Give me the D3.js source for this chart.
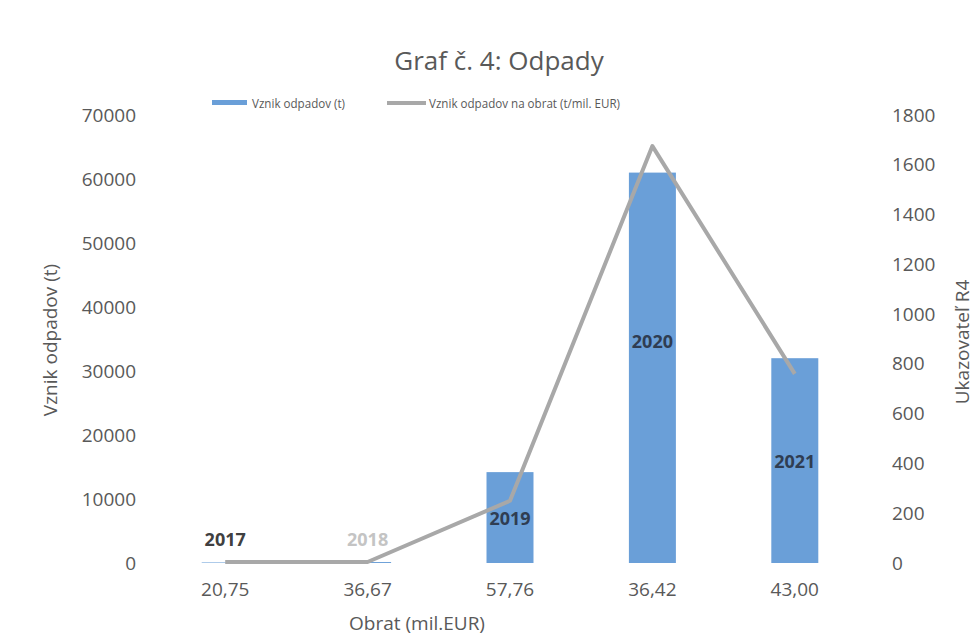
<!DOCTYPE html>
<html>
<head>
<meta charset="utf-8">
<script src="https://cdn.jsdelivr.net/npm/d3@7"></script>
<style>
  body { margin: 0; background: #fff; }
  text { font-family: "Open Sans", sans-serif; }
</style>
</head>
<body>
<svg width="974" height="642"></svg>
<script>
const years = ['2017', '2018', '2019', '2020', '2021'];
const obrat = ['20,75', '36,67', '57,76', '36,42', '43,00'];
const odpady = [85, 150, 14200, 61000, 32000];
const ukazovatel = [4, 4, 250, 1675, 760];
const leftTicks = [0, 10000, 20000, 30000, 40000, 50000, 60000, 70000];
const rightTicks = [0, 200, 400, 600, 800, 1000, 1200, 1400, 1600, 1800];

const svg = d3.select('svg');
const plotLeft = 154, plotRight = 866, plotTop = 115, plotBottom = 563;

const x = d3.scaleBand().domain(obrat.map((d, i) => i))
  .range([plotLeft, plotRight]).paddingInner(0.67).paddingOuter(0.335);
const yL = d3.scaleLinear().domain([0, 70000]).range([plotBottom, plotTop]);
const yR = d3.scaleLinear().domain([0, 1800]).range([plotBottom, plotTop]);

// title
svg.append('text')
  .attr('x', 499).attr('y', 70)
  .attr('text-anchor', 'middle')
  .attr('font-size', 26)
  .attr('fill', '#595959')
  .text('Graf č. 4: Odpady');

// axes
const yAxisL = svg.append('g').attr('transform', `translate(${plotLeft},0)`)
  .call(d3.axisLeft(yL).tickValues(leftTicks).tickFormat(d3.format('d')).tickSize(0).tickPadding(18));
const yAxisR = svg.append('g').attr('transform', `translate(${plotRight},0)`)
  .call(d3.axisRight(yR).tickValues(rightTicks).tickFormat(d3.format('d')).tickSize(0).tickPadding(26));
const xAxis = svg.append('g').attr('transform', `translate(0,${plotBottom})`)
  .call(d3.axisBottom(x).tickFormat(i => obrat[i]).tickSize(0).tickPadding(20));

[yAxisL, yAxisR, xAxis].forEach(g => {
  g.select('.domain').remove();
  g.selectAll('text').attr('font-size', 19).attr('fill', '#595959')
    .style('font-family', '"Open Sans", sans-serif');
});

// axis titles
svg.append('text')
  .attr('transform', 'translate(50,340) rotate(-90)')
  .attr('text-anchor', 'middle').attr('dominant-baseline', 'central')
  .attr('font-size', 19).attr('fill', '#595959')
  .text('Vznik odpadov (t)');

svg.append('text')
  .attr('transform', 'translate(962,342) rotate(-90)')
  .attr('text-anchor', 'middle').attr('dominant-baseline', 'central')
  .attr('font-size', 19).attr('fill', '#595959')
  .text('Ukazovateľ R4');

svg.append('text')
  .attr('x', 417).attr('y', 630)
  .attr('text-anchor', 'middle')
  .attr('font-size', 19).attr('fill', '#595959')
  .text('Obrat (mil.EUR)');

// bars
svg.selectAll('rect.bar').data(odpady).enter()
  .append('rect')
  .attr('class', 'bar')
  .attr('x', (d, i) => x(i))
  .attr('y', d => yL(d))
  .attr('width', x.bandwidth())
  .attr('height', d => plotBottom - yL(d))
  .attr('fill', '#6a9fd8');

// line
const line = d3.line()
  .x((d, i) => x(i) + x.bandwidth() / 2)
  .y(d => yR(d));

svg.append('path')
  .attr('fill', 'none')
  .attr('stroke', '#a8a8a8')
  .attr('stroke-width', 4)
  .attr('stroke-linejoin', 'round')
  .attr('d', line(ukazovatel));

// year labels
const labelColors = ['#404040', '#c4c4c4', '#2f3d52', '#2f3d52', '#2f3d52'];
svg.selectAll('text.year').data(years).enter()
  .append('text')
  .attr('class', 'year')
  .attr('x', (d, i) => x(i) + x.bandwidth() / 2)
  .attr('y', (d, i) => Math.min((yL(odpady[i]) + plotBottom) / 2, plotBottom - 24) + (i === 3 ? -27 : 0))
  .attr('text-anchor', 'middle')
  .attr('dominant-baseline', 'central')
  .attr('font-size', 18)
  .attr('font-weight', 'bold')
  .attr('fill', (d, i) => labelColors[i])
  .text(d => d);

// legend
const legend = svg.append('g');
legend.append('rect')
  .attr('x', 212).attr('y', 100).attr('width', 35).attr('height', 5)
  .attr('fill', '#6a9fd8');
legend.append('text')
  .attr('x', 252).attr('y', 103)
  .attr('dominant-baseline', 'central')
  .attr('font-size', 12).attr('fill', '#595959')
  .attr('textLength', 93).attr('lengthAdjust', 'spacingAndGlyphs')
  .text('Vznik odpadov (t)');
legend.append('line')
  .attr('x1', 387).attr('x2', 426).attr('y1', 103).attr('y2', 103)
  .attr('stroke', '#a8a8a8').attr('stroke-width', 4);
legend.append('text')
  .attr('x', 429).attr('y', 103)
  .attr('dominant-baseline', 'central')
  .attr('font-size', 12).attr('fill', '#595959')
  .attr('textLength', 191).attr('lengthAdjust', 'spacingAndGlyphs')
  .text('Vznik odpadov na obrat (t/mil. EUR)');
</script>
</body>
</html>
